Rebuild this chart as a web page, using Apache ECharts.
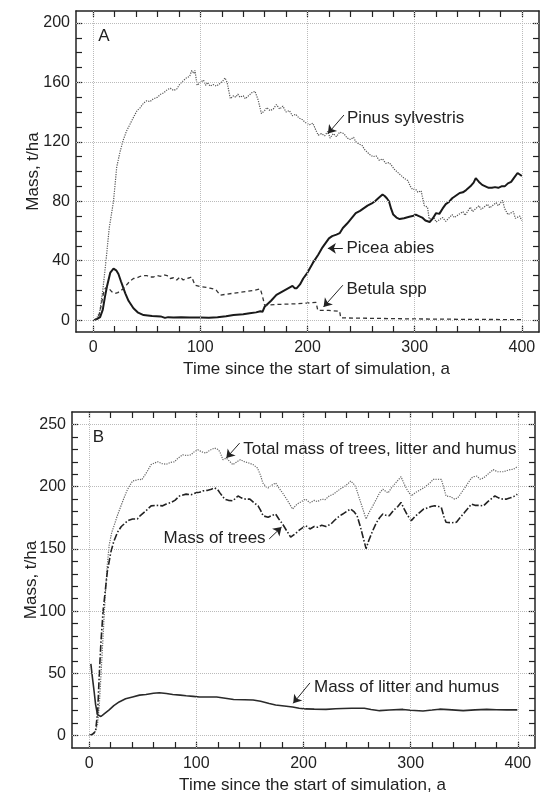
<!DOCTYPE html>
<html>
<head>
<meta charset="utf-8">
<script src="https://cdn.jsdelivr.net/npm/echarts@6/dist/echarts.min.js"></script>
<style>
  html, body { margin: 0; background: #fff; }
  #chart { width: 552px; height: 795px; }
</style>
</head>
<body>
<div id="chart"></div>
<script>
  // panel A: mass of each tree species, t/ha, against years
  const pinus = [
    [0,0],[3,1],[6,5],[9,20],[12,40],[15,62],[19,80],[22,103],[25,113],[28,121],[31,127],[34.5,132],
    [38,137],[41,141],[44,143],[47,146],[50,147.6],[53,147],[56,148.8],[60,150],[63,152],[66,153],
    [69,155],[72,156],[75,154.5],[78,155.5],[81,159],[84,161],[87,163],[90,164],[92,168],[94,166],
    [95,168],[97,158],[100,160],[103,161.5],[105,158],[107,160],[109,157.5],[112,158.5],[115,157.5],
    [118,159],[121,161],[123,163],[125,160],[128,149],[131,151],[133,150],[135,152],[137,150],[140,151],
    [142,149],[145,151],[148,153],[151,154],[154,148],[157,139],[160,141],[162,143],[165,141],[168,142],
    [171,145],[174,142],[177,144],[180,140],[183,141],[186,137.5],[189,138.5],[192,136],[195,135],
    [198,133],[202,131.5],[205,132.5],[208,127.5],[210,124.5],[213,125.5],[216,124],[219,127],
    [221,122.5],[224,125.5],[227,123.5],[230,126.5],[234,125.5],[237,122.5],[240,121.5],[243,123],
    [245,120],[248,118.5],[251,117.5],[253,115],[255,113.5],[258,111.5],[261,110],[264,110.5],
    [267,107.5],[270,108.5],[273,105.5],[276,106],[278,104.5],[281,101.5],[284,99.5],[287,97.5],
    [290,95.5],[293.5,94],[296,90],[298,88],[301,88],[303,86],[306,87],[309,77],[312,76],[313.5,68],
    [318,69],[320,66],[326,69],[329,66.5],[335,71],[337,69],[345,73],[347,70.5],[352,76],[354,73],
    [360,77],[362,74.5],[368,78],[370,75.5],[376,79],[378,77],[382,80.5],[384,75],[387,71],[392,73],
    [394,68.5],[398,70],[400,67]
  ];
  const picea = [
    [0,0],[3,0.5],[6.5,2],[9,7],[11,15.6],[13,23],[16,32],[19,34.7],[21.5,33.5],[23.6,31],[26,26],
    [30,18],[33,13],[37.6,8],[42,5],[47,3.4],[55,2.8],[63,2.5],[67,1.5],[70,2],[75,1.8],[82,2],
    [90,1.8],[100,1.8],[108,1.6],[116,2],[124,2.6],[131,3.4],[140,4],[146,4.6],[152,5.2],[156,6],
    [158,5.6],[160,9],[163,11],[166,13],[171,17],[176,19],[181,21],[186,23],[188,21.5],[190,21.5],
    [193,24],[196,28],[200,32],[205,38.5],[210,44],[214,49],[217,52],[220,55],[223,56.5],[227,57.5],
    [230,58.5],[233,62],[237,65],[241,68.5],[245,72],[249,73.5],[252,75],[256,77],[260,78.5],
    [263,80],[266,82],[270,84.5],[272,83.5],[274,82],[276,80],[278,75],[280,71],[283,69],[286,68],
    [290,68.5],[295,69.5],[298,70],[301,71],[304,70],[307,69],[310,67],[314,66],[317,68.5],[320,72],
    [323,71.5],[326,75],[329,78],[332,79.5],[335,82],[338,83.5],[342,85.5],[345,86],[348,87.5],
    [352,90],[355,92.5],[357,95.5],[360,93],[363,91],[366,90],[369,89],[372,89],[375,89.5],[378,89],
    [381,90],[384,90],[387,92],[390,93],[393,96],[396,99],[398,98],[400,97]
  ];
  const betula = [
    [0,0],[2,0.2],[5,2],[7,8],[9.6,18],[11,21],[12.8,22.4],[15,21],[17.5,19],[20.5,18],[23,18.5],
    [26,20],[28,21],[31,23.5],[34,26],[37.6,28],[41,28.5],[44,29.5],[47,30],[50,30],[53,29],[56,29],
    [60,30],[63,29.5],[66,30.5],[69,30],[72,28],[75,28.5],[78,27],[81,29],[84,27],[87,28],[90,28.5],
    [92,29],[95,23.5],[100,22.5],[106,22],[109,21.5],[112,21],[115,20],[118.5,16.8],[130,18],
    [140,19],[150,20],[156,21],[158,16],[160,10],[171,10.5],[190,11],[200,11.5],[208,12],[209.6,6.5],
    [220,6.5],[230,6],[231,1.5],[260,1.2],[300,0.8],[350,0.5],[400,0.3]
  ];

  // panel B: total mass, tree mass, litter and humus, t/ha
  const totalMass = [
    [0,0],[3,0.5],[5,2],[7.8,8.7],[9.5,25],[11,48],[13,80],[15,112],[17,138],[18.7,153],[21,163],
    [23.4,169],[26,176],[29.7,184.6],[33,192],[35.9,198],[38,201],[40.5,204.5],[43,205],[46.8,206],
    [49,205.5],[51,208],[54,212],[57.8,217.7],[61,219],[64,220],[68,218.5],[72,218],[76,219.5],
    [79.6,220],[83,223],[87.4,225.6],[91,225],[95,225.6],[98,228],[101.4,229.6],[105,228],[109,227],
    [113,229.5],[117,231],[120,230],[122,228],[124.8,221.7],[128,223],[131,220.4],[134,217.7],
    [137,219.5],[141,221.7],[145,220],[149,219],[153,217.7],[157,215],[160,209],[162,203],[165,200],
    [167,199],[170,201],[174,203],[177,199],[180.5,195],[185,189],[189.8,182],[194,186],[198,188],
    [202,190],[206,187],[210,189],[213,188],[217,190],[220,189.5],[224,192.5],[228,194],[231,196],
    [234,198],[238,200],[241,202],[244,204.5],[247,202],[249,199],[252,191],[255,183],[258.4,174],
    [261,179],[264.7,184.6],[268,190],[271,195],[274,198],[277,196],[279,195],[282,199],[285,202],
    [288,205],[291,208],[294,202],[297,197],[300.6,192.5],[304,195],[308,197],[312,199],[315,201],
    [318,203],[321,205.8],[325,206],[328.6,205.8],[331,199],[333,192.5],[337,192],[341,190],[344,191],
    [348,196],[352,201],[356.7,207],[359,208],[361.7,208.5],[365,206],[368,207],[372,210],[377,213.7],
    [381,212],[386.6,212],[390,213],[392.9,213.7],[396,214],[399.5,216]
  ];
  const treeMass = [
    [0,0],[3,1],[6,3.4],[8,20],[9.4,48],[11,75],[13,100],[15,116],[17,132],[20.3,147.6],[23,156],
    [26.5,163.5],[30,168],[34.4,171.4],[37,173],[40.5,174],[45,174],[48,177],[53,180.6],[57.8,184.6],
    [62,185],[68.6,184.6],[72,186],[76.5,187.3],[80,189],[84.3,192.5],[90.5,194],[95,193.5],
    [99.9,195.2],[103,195.5],[106,196.6],[110,197],[114,198],[117,199],[120,197.5],[122,195],
    [126.4,190],[130,189],[134,188.6],[138.9,192.5],[142,191],[146,190],[150,190],[154,187],
    [157.6,184.6],[160,181],[162.3,176.6],[167,175.4],[171,177],[174,178],[177,174],[180.5,170],
    [184,165],[188,159.5],[192,162],[196,165],[202,168.7],[206,166],[210,168],[213,167.4],[217,169],
    [221,168],[225.6,170],[229,173],[233,176],[236.6,178],[240,180],[244,182],[247,180],[250,176.6],
    [253,168],[256,158],[258.4,150.2],[261,157],[264.7,164.8],[268,171],[271,175],[274,178],[277,177],
    [280,176.6],[284,181],[288,184],[291,187.3],[294,182],[297,177],[300.6,172.7],[304,176],[308,179],
    [312,182],[316,183],[319,184],[322.4,184.6],[326,184],[328.6,183.3],[331,176],[333,171.4],
    [338,171],[342.7,171.4],[346,175],[350,179],[356.7,186],[360,185],[364,185],[368,184.6],[372,188],
    [378.6,192.5],[382,191],[386,190],[389.6,190],[393,191],[396,192],[399.5,193.9]
  ];
  const litterMass = [
    [1.6,57.6],[3,47],[4.7,35],[6,25],[7.8,16.7],[11,15.3],[14,17.5],[18.7,20.6],[23,24],[28,27],
    [34,29.5],[40.5,31],[47,32.5],[53,33],[60,34],[65.5,34.4],[72,33.8],[78,33],[85,32.5],[90.5,32],
    [97,31.5],[103,31],[110,31],[119,31],[127,30],[134.8,29],[145,28.8],[153,28.6],[160,27.5],
    [168,25.8],[174,24.6],[182,23.8],[189.8,23],[196,22],[202,21.4],[210,21.2],[221,21],[230,21.5],
    [236.6,21.8],[245,22],[256.8,21.9],[263,21],[271,20],[280,20.5],[292.8,21],[300,20.3],
    [311.5,19.7],[320,20.5],[327,21.2],[335,20.8],[349,20],[360,20.6],[371,21],[380,20.7],
    [389.6,20.6],[399.5,20.6]
  ];

  // tick and label positions
  const xLabels = [0, 100, 200, 300, 400];
  const xTicks = [0, 20, 40, 60, 80, 100, 120, 140, 160, 180, 200, 220, 240, 260, 280, 300, 320, 340, 360, 380, 400];
  const yLabelsA = [0, 40, 80, 120, 160, 200];
  const yTicksA = [0, 10, 20, 30, 40, 50, 60, 70, 80, 90, 100, 110, 120, 130, 140, 150, 160, 170, 180, 190, 200];
  const yLabelsB = [0, 50, 100, 150, 200, 250];
  const yTicksB = [0, 10, 20, 30, 40, 50, 60, 70, 80, 90, 100, 110, 120, 130, 140, 150, 160, 170, 180, 190, 200, 210, 220, 230, 240, 250];

  const FONT = "'Liberation Sans', Arial, sans-serif";
  const INK = '#222';
  const X_NAME = 'Time since the start of simulation, a';
  const Y_NAME = 'Mass, t/ha';

  function axis(gridIndex, position, min, max, ticks, labels, name, nameGap) {
    const horizontal = position === 'bottom' || position === 'top';
    const a = {
      type: 'value', gridIndex: gridIndex, position: position, min: min, max: max,
      splitLine: { show: false },
      axisLine: { show: true, onZero: false, lineStyle: { color: INK, width: 1.5 } },
      axisTick: { show: true, inside: true, length: 6, customValues: ticks, lineStyle: { color: INK, width: 1.2 } },
      axisLabel: { show: false }
    };
    if (labels) {
      a.axisLabel = { show: true, customValues: labels, margin: horizontal ? 8 : 6, color: INK, fontFamily: FONT, fontSize: 16 };
    }
    if (name) {
      a.name = name;
      a.nameLocation = 'middle';
      a.nameGap = nameGap;
      a.nameMoveOverlap = false;
      a.nameTextStyle = { color: INK, fontFamily: FONT, fontSize: 17, padding: horizontal ? [0, 0, 0, 18] : 0 };
    }
    return a;
  }

  function note(coord, text, pos) {
    return {
      coord: coord, symbol: 'circle', symbolSize: 0,
      label: { show: true, position: pos || 'right', distance: 2, formatter: text, color: INK, fontFamily: FONT, fontSize: 17 }
    };
  }

  function arrows(list) {
    return {
      silent: true, symbol: ['none', 'arrow'], symbolSize: 8,
      label: { show: false },
      lineStyle: { type: 'solid', color: INK, width: 1 },
      data: list.map(function (p) { return [{ coord: p[0] }, { coord: p[1] }]; })
    };
  }

  function gridLines(xi, yi, yLabels) {
    return {
      type: 'line', xAxisIndex: xi, yAxisIndex: yi, data: [], z: 1,
      markLine: {
        silent: true, symbol: 'none', label: { show: false },
        lineStyle: { type: 'dotted', color: '#bbb', width: 1 },
        data: xLabels.map(function (v) { return { xAxis: v }; })
          .concat(yLabels.map(function (v) { return { yAxis: v }; }))
      }
    };
  }

  function curve(xi, yi, data, style) {
    return { type: 'line', xAxisIndex: xi, yAxisIndex: yi, data: data, symbol: 'none', z: 3, lineStyle: style };
  }

  const chart = echarts.init(document.getElementById('chart'));
  const pinusSeries = curve(0, 0, pinus, { type: 'dotted', width: 1.2, color: '#555' });
  pinusSeries.markLine = arrows([
    [[234, 138], [219, 125.5]],
    [[233, 48.3], [219, 48.3]],
    [[233, 23.5], [215, 8.9]]
  ]);
  pinusSeries.markPoint = {
    silent: true,
    data: [
      note([235, 135.6], 'Pinus sylvestris'),
      note([234.5, 48.3], 'Picea abies'),
      note([234.5, 20.8], 'Betula spp'),
      note([3, 191.2], 'A')
    ]
  };
  const totalSeries = curve(2, 2, totalMass, { type: 'dotted', width: 1.2, color: '#666' });
  totalSeries.markLine = arrows([
    [[140.4, 235], [128, 223]],
    [[168, 158], [179.5, 167.5]],
    [[206, 42.3], [190.4, 25.9]]
  ]);
  totalSeries.markPoint = {
    silent: true,
    data: [
      note([142, 230.4], 'Total mass of trees, litter and humus'),
      note([166.5, 158.7], 'Mass of trees', 'left'),
      note([207.9, 38.7], 'Mass of litter and humus'),
      note([1.5, 240], 'B')
    ]
  };

  chart.setOption({
    animation: false,
    backgroundColor: '#fff',
    textStyle: { fontFamily: FONT },
    grid: [
      { left: 76, top: 11, width: 463, height: 321 },
      { left: 72, top: 412, width: 463, height: 340 }
    ],
    xAxis: [
      axis(0, 'bottom', -16, 416, xTicks, xLabels, X_NAME, 29),
      axis(0, 'top', -16, 416, xTicks),
      axis(1, 'bottom', -16, 416, xTicks, xLabels, X_NAME, 29),
      axis(1, 'top', -16, 416, xTicks)
    ],
    yAxis: [
      axis(0, 'left', -8, 208, yTicksA, yLabelsA, Y_NAME, 34),
      axis(0, 'right', -8, 208, yTicksA),
      axis(1, 'left', -10, 260, yTicksB, yLabelsB, Y_NAME, 32),
      axis(1, 'right', -10, 260, yTicksB)
    ],
    series: [
      gridLines(0, 0, yLabelsA),
      gridLines(2, 2, yLabelsB),
      pinusSeries,
      curve(0, 0, picea, { type: 'solid', width: 2, color: '#1a1a1a' }),
      curve(0, 0, betula, { type: [4, 3], width: 1.3, color: '#333' }),
      totalSeries,
      curve(2, 2, treeMass, { type: [7, 2, 1.5, 2], width: 1.6, color: '#222' }),
      curve(2, 2, litterMass, { type: 'solid', width: 1.6, color: '#2a2a2a' })
    ]
  });
</script>
</body>
</html>
